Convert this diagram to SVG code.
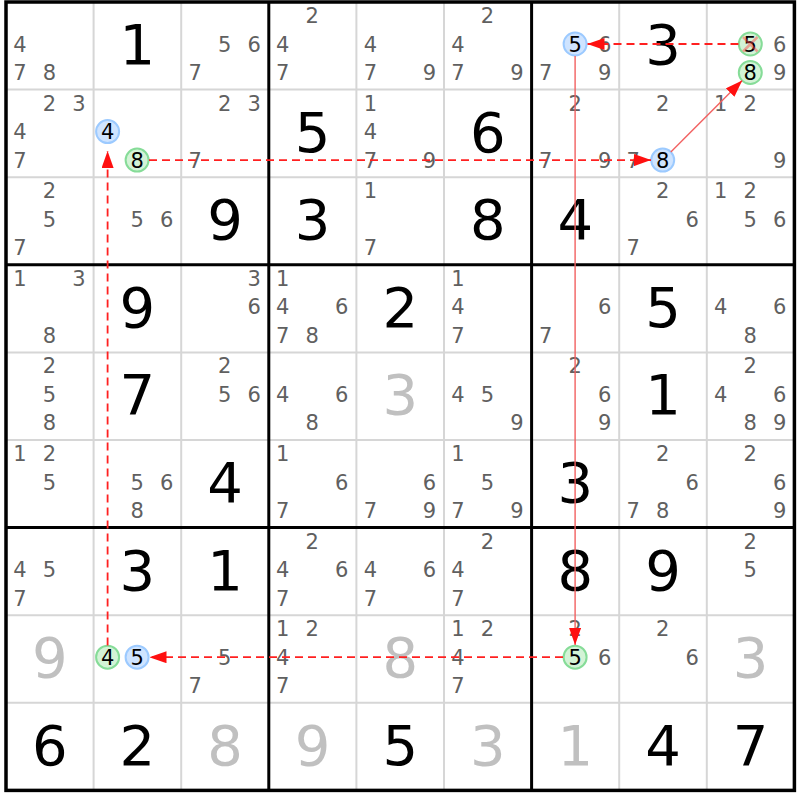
<svg xmlns="http://www.w3.org/2000/svg" width="800" height="800" viewBox="0 0 800 800">
<style>
text{font-family:"DejaVu Sans","Liberation Sans",sans-serif;text-anchor:middle}
.c{font-size:21px;fill:#606060}
.k{font-size:21px;fill:#000}
.g{font-size:56px;fill:#000}
.s{font-size:56px;fill:#c0c0c0}
.bl{fill:#cfe4ff;stroke:#9ccaff;stroke-width:2}
.gr{fill:#d3f3d6;stroke:#86dc98;stroke-width:2}
.thin{stroke:#d6d6d6;stroke-width:2}
.thick{stroke:#000;stroke-width:3}
.dash{stroke:#ff2020;stroke-width:1.8;stroke-dasharray:8 5;fill:none}
.sol{stroke:#f26060;stroke-width:1.4;fill:none}
</style>
<defs>
<marker id="ah" markerUnits="userSpaceOnUse" markerWidth="17" markerHeight="12" refX="17" refY="6" orient="auto"><path d="M0,0 L17,6 L0,12 z" fill="#ff1010"/></marker>
</defs>
<rect width="800" height="800" fill="#fff"/>
<g id="grid">
<path class="thin" d="M93.6,2V790.4M181.2,2V790.4M356.4,2V790.4M444,2V790.4M619.2,2V790.4M706.8,2V790.4M6,89.6H794.4M6,177.2H794.4M6,352.4H794.4M6,440H794.4M6,615.2H794.4M6,702.8H794.4"/>
<path class="thick" d="M268.8,2V790.4M531.6,2V790.4M6,264.8H794.4M6,527.6H794.4"/>
<rect x="6" y="2" width="788.4" height="788.4" fill="none" stroke="#000" stroke-width="3.5"/>
</g>
<g id="r1">
<g id="r1c1"><text class="c" x="20" y="51.5">4</text><text class="c" x="20" y="80">7</text><text class="c" x="49.5" y="80">8</text></g>
<g id="r1c2"><text class="g" x="137.4" y="64">1</text></g>
<g id="r1c3"><text class="c" x="224.7" y="51.5">5</text><text class="c" x="254.2" y="51.5">6</text><text class="c" x="195.2" y="80">7</text></g>
<g id="r1c4"><text class="c" x="312.3" y="23">2</text><text class="c" x="282.8" y="51.5">4</text><text class="c" x="282.8" y="80">7</text></g>
<g id="r1c5"><text class="c" x="370.4" y="51.5">4</text><text class="c" x="370.4" y="80">7</text><text class="c" x="429.4" y="80">9</text></g>
<g id="r1c6"><text class="c" x="487.5" y="23">2</text><text class="c" x="458" y="51.5">4</text><text class="c" x="458" y="80">7</text><text class="c" x="517" y="80">9</text></g>
<g id="r1c7"><circle class="bl" cx="575.1" cy="44" r="11.5"/><text class="k" x="575.1" y="51.5">5</text><text class="c" x="604.6" y="51.5">6</text><text class="c" x="545.6" y="80">7</text><text class="c" x="604.6" y="80">9</text></g>
<g id="r1c8"><text class="g" x="663" y="64">3</text></g>
<g id="r1c9"><circle class="gr" cx="750.3" cy="44" r="11.5"/><text class="k" x="750.3" y="51.5">5</text><path d="M743,37L757.5,51.5M757.5,37L743,51.5" stroke="#ff4040" stroke-opacity="0.45" stroke-width="2.5"/><text class="c" x="779.8" y="51.5">6</text><circle class="gr" cx="750.3" cy="72.5" r="11.5"/><text class="k" x="750.3" y="80">8</text><text class="c" x="779.8" y="80">9</text></g>
</g>
<g id="r2">
<g id="r2c1"><text class="c" x="49.5" y="110.6">2</text><text class="c" x="79" y="110.6">3</text><text class="c" x="20" y="139.1">4</text><text class="c" x="20" y="167.6">7</text></g>
<g id="r2c2"><circle class="bl" cx="107.6" cy="131.6" r="11.5"/><text class="k" x="107.6" y="139.1">4</text><circle class="gr" cx="137.1" cy="160.1" r="11.5"/><text class="k" x="137.1" y="167.6">8</text></g>
<g id="r2c3"><text class="c" x="224.7" y="110.6">2</text><text class="c" x="254.2" y="110.6">3</text><text class="c" x="195.2" y="167.6">7</text></g>
<g id="r2c4"><text class="g" x="312.6" y="151.6">5</text></g>
<g id="r2c5"><text class="c" x="370.4" y="110.6">1</text><text class="c" x="370.4" y="139.1">4</text><text class="c" x="370.4" y="167.6">7</text><text class="c" x="429.4" y="167.6">9</text></g>
<g id="r2c6"><text class="g" x="487.8" y="151.6">6</text></g>
<g id="r2c7"><text class="c" x="575.1" y="110.6">2</text><text class="c" x="545.6" y="167.6">7</text><text class="c" x="604.6" y="167.6">9</text></g>
<g id="r2c8"><text class="c" x="662.7" y="110.6">2</text><text class="c" x="633.2" y="167.6">7</text><circle class="bl" cx="662.7" cy="160.1" r="11.5"/><text class="k" x="662.7" y="167.6">8</text></g>
<g id="r2c9"><text class="c" x="720.8" y="110.6">1</text><text class="c" x="750.3" y="110.6">2</text><text class="c" x="779.8" y="167.6">9</text></g>
</g>
<g id="r3">
<g id="r3c1"><text class="c" x="49.5" y="198.2">2</text><text class="c" x="49.5" y="226.7">5</text><text class="c" x="20" y="255.2">7</text></g>
<g id="r3c2"><text class="c" x="137.1" y="226.7">5</text><text class="c" x="166.6" y="226.7">6</text></g>
<g id="r3c3"><text class="g" x="225" y="239.2">9</text></g>
<g id="r3c4"><text class="g" x="312.6" y="239.2">3</text></g>
<g id="r3c5"><text class="c" x="370.4" y="198.2">1</text><text class="c" x="370.4" y="255.2">7</text></g>
<g id="r3c6"><text class="g" x="487.8" y="239.2">8</text></g>
<g id="r3c7"><text class="g" x="575.4" y="239.2">4</text></g>
<g id="r3c8"><text class="c" x="662.7" y="198.2">2</text><text class="c" x="692.2" y="226.7">6</text><text class="c" x="633.2" y="255.2">7</text></g>
<g id="r3c9"><text class="c" x="720.8" y="198.2">1</text><text class="c" x="750.3" y="198.2">2</text><text class="c" x="750.3" y="226.7">5</text><text class="c" x="779.8" y="226.7">6</text></g>
</g>
<g id="r4">
<g id="r4c1"><text class="c" x="20" y="285.8">1</text><text class="c" x="79" y="285.8">3</text><text class="c" x="49.5" y="342.8">8</text></g>
<g id="r4c2"><text class="g" x="137.4" y="326.8">9</text></g>
<g id="r4c3"><text class="c" x="254.2" y="285.8">3</text><text class="c" x="254.2" y="314.3">6</text></g>
<g id="r4c4"><text class="c" x="282.8" y="285.8">1</text><text class="c" x="282.8" y="314.3">4</text><text class="c" x="341.8" y="314.3">6</text><text class="c" x="282.8" y="342.8">7</text><text class="c" x="312.3" y="342.8">8</text></g>
<g id="r4c5"><text class="g" x="400.2" y="326.8">2</text></g>
<g id="r4c6"><text class="c" x="458" y="285.8">1</text><text class="c" x="458" y="314.3">4</text><text class="c" x="458" y="342.8">7</text></g>
<g id="r4c7"><text class="c" x="604.6" y="314.3">6</text><text class="c" x="545.6" y="342.8">7</text></g>
<g id="r4c8"><text class="g" x="663" y="326.8">5</text></g>
<g id="r4c9"><text class="c" x="720.8" y="314.3">4</text><text class="c" x="779.8" y="314.3">6</text><text class="c" x="750.3" y="342.8">8</text></g>
</g>
<g id="r5">
<g id="r5c1"><text class="c" x="49.5" y="373.4">2</text><text class="c" x="49.5" y="401.9">5</text><text class="c" x="49.5" y="430.4">8</text></g>
<g id="r5c2"><text class="g" x="137.4" y="414.4">7</text></g>
<g id="r5c3"><text class="c" x="224.7" y="373.4">2</text><text class="c" x="224.7" y="401.9">5</text><text class="c" x="254.2" y="401.9">6</text></g>
<g id="r5c4"><text class="c" x="282.8" y="401.9">4</text><text class="c" x="341.8" y="401.9">6</text><text class="c" x="312.3" y="430.4">8</text></g>
<g id="r5c5"><text class="s" x="400.2" y="414.4">3</text></g>
<g id="r5c6"><text class="c" x="458" y="401.9">4</text><text class="c" x="487.5" y="401.9">5</text><text class="c" x="517" y="430.4">9</text></g>
<g id="r5c7"><text class="c" x="575.1" y="373.4">2</text><text class="c" x="604.6" y="401.9">6</text><text class="c" x="604.6" y="430.4">9</text></g>
<g id="r5c8"><text class="g" x="663" y="414.4">1</text></g>
<g id="r5c9"><text class="c" x="750.3" y="373.4">2</text><text class="c" x="720.8" y="401.9">4</text><text class="c" x="779.8" y="401.9">6</text><text class="c" x="750.3" y="430.4">8</text><text class="c" x="779.8" y="430.4">9</text></g>
</g>
<g id="r6">
<g id="r6c1"><text class="c" x="20" y="461">1</text><text class="c" x="49.5" y="461">2</text><text class="c" x="49.5" y="489.5">5</text></g>
<g id="r6c2"><text class="c" x="137.1" y="489.5">5</text><text class="c" x="166.6" y="489.5">6</text><text class="c" x="137.1" y="518">8</text></g>
<g id="r6c3"><text class="g" x="225" y="502">4</text></g>
<g id="r6c4"><text class="c" x="282.8" y="461">1</text><text class="c" x="341.8" y="489.5">6</text><text class="c" x="282.8" y="518">7</text></g>
<g id="r6c5"><text class="c" x="429.4" y="489.5">6</text><text class="c" x="370.4" y="518">7</text><text class="c" x="429.4" y="518">9</text></g>
<g id="r6c6"><text class="c" x="458" y="461">1</text><text class="c" x="487.5" y="489.5">5</text><text class="c" x="458" y="518">7</text><text class="c" x="517" y="518">9</text></g>
<g id="r6c7"><text class="g" x="575.4" y="502">3</text></g>
<g id="r6c8"><text class="c" x="662.7" y="461">2</text><text class="c" x="692.2" y="489.5">6</text><text class="c" x="633.2" y="518">7</text><text class="c" x="662.7" y="518">8</text></g>
<g id="r6c9"><text class="c" x="750.3" y="461">2</text><text class="c" x="779.8" y="489.5">6</text><text class="c" x="779.8" y="518">9</text></g>
</g>
<g id="r7">
<g id="r7c1"><text class="c" x="20" y="577.1">4</text><text class="c" x="49.5" y="577.1">5</text><text class="c" x="20" y="605.6">7</text></g>
<g id="r7c2"><text class="g" x="137.4" y="589.6">3</text></g>
<g id="r7c3"><text class="g" x="225" y="589.6">1</text></g>
<g id="r7c4"><text class="c" x="312.3" y="548.6">2</text><text class="c" x="282.8" y="577.1">4</text><text class="c" x="341.8" y="577.1">6</text><text class="c" x="282.8" y="605.6">7</text></g>
<g id="r7c5"><text class="c" x="370.4" y="577.1">4</text><text class="c" x="429.4" y="577.1">6</text><text class="c" x="370.4" y="605.6">7</text></g>
<g id="r7c6"><text class="c" x="487.5" y="548.6">2</text><text class="c" x="458" y="577.1">4</text><text class="c" x="458" y="605.6">7</text></g>
<g id="r7c7"><text class="g" x="575.4" y="589.6">8</text></g>
<g id="r7c8"><text class="g" x="663" y="589.6">9</text></g>
<g id="r7c9"><text class="c" x="750.3" y="548.6">2</text><text class="c" x="750.3" y="577.1">5</text></g>
</g>
<g id="r8">
<g id="r8c1"><text class="s" x="49.8" y="677.2">9</text></g>
<g id="r8c2"><circle class="gr" cx="107.6" cy="657.2" r="11.5"/><text class="k" x="107.6" y="664.7">4</text><circle class="bl" cx="137.1" cy="657.2" r="11.5"/><text class="k" x="137.1" y="664.7">5</text></g>
<g id="r8c3"><text class="c" x="224.7" y="664.7">5</text><text class="c" x="195.2" y="693.2">7</text></g>
<g id="r8c4"><text class="c" x="282.8" y="636.2">1</text><text class="c" x="312.3" y="636.2">2</text><text class="c" x="282.8" y="664.7">4</text><text class="c" x="282.8" y="693.2">7</text></g>
<g id="r8c5"><text class="s" x="400.2" y="677.2">8</text></g>
<g id="r8c6"><text class="c" x="458" y="636.2">1</text><text class="c" x="487.5" y="636.2">2</text><text class="c" x="458" y="664.7">4</text><text class="c" x="458" y="693.2">7</text></g>
<g id="r8c7"><text class="c" x="575.1" y="636.2">2</text><circle class="gr" cx="575.1" cy="657.2" r="11.5"/><text class="k" x="575.1" y="664.7">5</text><text class="c" x="604.6" y="664.7">6</text></g>
<g id="r8c8"><text class="c" x="662.7" y="636.2">2</text><text class="c" x="692.2" y="664.7">6</text></g>
<g id="r8c9"><text class="s" x="750.6" y="677.2">3</text></g>
</g>
<g id="r9">
<g id="r9c1"><text class="g" x="49.8" y="764.8">6</text></g>
<g id="r9c2"><text class="g" x="137.4" y="764.8">2</text></g>
<g id="r9c3"><text class="s" x="225" y="764.8">8</text></g>
<g id="r9c4"><text class="s" x="312.6" y="764.8">9</text></g>
<g id="r9c5"><text class="g" x="400.2" y="764.8">5</text></g>
<g id="r9c6"><text class="s" x="487.8" y="764.8">3</text></g>
<g id="r9c7"><text class="s" x="575.4" y="764.8">1</text></g>
<g id="r9c8"><text class="g" x="663" y="764.8">4</text></g>
<g id="r9c9"><text class="g" x="750.6" y="764.8">7</text></g>
</g>
<g id="connectors">
<line class="dash" x1="107.6" y1="645.5" x2="107.6" y2="151" marker-end="url(#ah)"/>
<line class="dash" x1="149" y1="160.1" x2="651" y2="160.1" marker-end="url(#ah)"/>
<line class="sol" x1="670.8" y1="152" x2="742.2" y2="80.6" marker-end="url(#ah)"/>
<line class="dash" x1="738.5" y1="44" x2="587.5" y2="44" marker-end="url(#ah)"/>
<line class="sol" x1="575.1" y1="56" x2="575.1" y2="645" marker-end="url(#ah)"/>
<line class="dash" x1="563" y1="657.2" x2="149.5" y2="657.2" marker-end="url(#ah)"/>
</g>
</svg>
